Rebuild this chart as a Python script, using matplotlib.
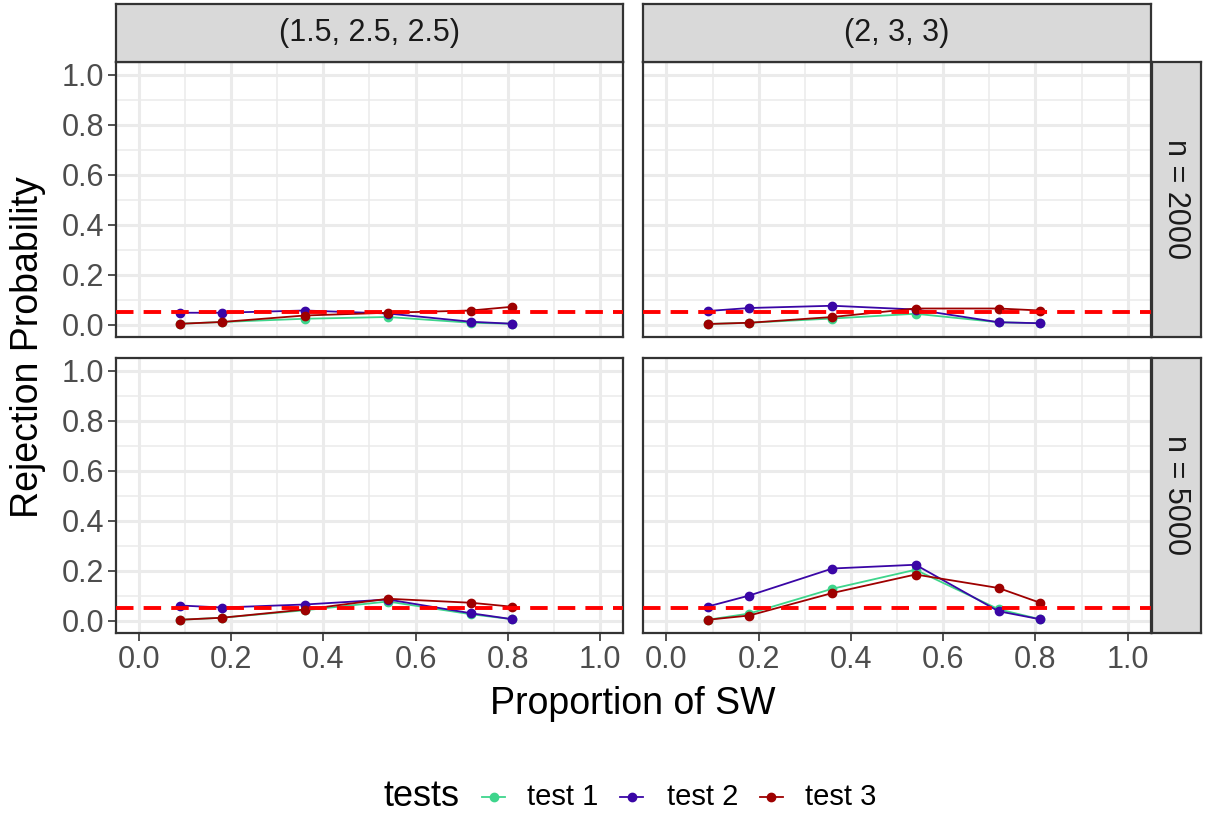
import matplotlib
matplotlib.use("Agg")
import matplotlib.pyplot as plt
from matplotlib.lines import Line2D

plt.rcParams['font.family'] = ['Liberation Sans', 'DejaVu Sans']

# ---- data ----
proportions = [0.09, 0.18, 0.36, 0.54, 0.72, 0.81]
col_labels = ["(1.5, 2.5, 2.5)", "(2, 3, 3)"]
row_labels = ["n = 2000", "n = 5000"]
test_names = ["test 1", "test 2", "test 3"]
test_colors = ["#3ED58C", "#3A06A6", "#9E0000"]

tl_test1 = [0.003, 0.010, 0.023, 0.030, 0.007, 0.003]
tl_test2 = [0.047, 0.047, 0.056, 0.044, 0.011, 0.003]
tl_test3 = [0.003, 0.010, 0.036, 0.047, 0.056, 0.071]

tr_test1 = [0.002, 0.007, 0.024, 0.043, 0.009, 0.005]
tr_test2 = [0.054, 0.066, 0.075, 0.060, 0.009, 0.005]
tr_test3 = [0.002, 0.007, 0.030, 0.064, 0.064, 0.056]

bl_test1 = [0.003, 0.011, 0.041, 0.076, 0.025, 0.005]
bl_test2 = [0.060, 0.052, 0.064, 0.084, 0.029, 0.005]
bl_test3 = [0.003, 0.011, 0.044, 0.087, 0.071, 0.055]

br_test1 = [0.003, 0.028, 0.127, 0.203, 0.045, 0.005]
br_test2 = [0.056, 0.100, 0.208, 0.223, 0.037, 0.005]
br_test3 = [0.003, 0.020, 0.110, 0.184, 0.130, 0.071]

panel_data = [
    [[tl_test1, tl_test2, tl_test3], [tr_test1, tr_test2, tr_test3]],
    [[bl_test1, bl_test2, bl_test3], [br_test1, br_test2, br_test3]],
]
ref_level = 0.05

x_ticks = [0.0, 0.2, 0.4, 0.6, 0.8, 1.0]
y_ticks = [0.0, 0.2, 0.4, 0.6, 0.8, 1.0]
x_minor = [0.1, 0.3, 0.5, 0.7, 0.9]
y_minor = [0.1, 0.3, 0.5, 0.7, 0.9]

W, H = 1205, 814
fig = plt.figure(figsize=(W / 100, H / 100), dpi=100)

col_x = [115.7, 643.3]
pw = 507.5
row_y = [62, 358]
ph = 275
strip_h = 58
rstrip_w = 49

border = "#333333"
grid_c = "#EBEBEB"
tick_fs = 22

def fx(px):
    return px / W

def fy(py):
    return 1 - py / H

for r in range(2):
    for c in range(2):
        x0 = col_x[c]
        y0 = row_y[r]
        ax = fig.add_axes([fx(x0), fy(y0 + ph), pw / W, ph / H])
        ax.set_xlim(-0.05, 1.05)
        ax.set_ylim(-0.05, 1.05)
        ax.set_xticks(x_ticks)
        ax.set_yticks(y_ticks)
        ax.set_xticks(x_minor, minor=True)
        ax.set_yticks(y_minor, minor=True)
        ax.grid(True, which='major', color=grid_c, lw=2.2, zorder=0)
        ax.grid(True, which='minor', color=grid_c, lw=1.1, zorder=0)
        ax.set_axisbelow(True)
        for s in ax.spines.values():
            s.set_color(border)
            s.set_linewidth(1.6)
        ax.tick_params(which='minor', length=0)
        ax.tick_params(which='major', length=5.5, width=1.2, color=border,
                       labelsize=tick_fs, labelcolor="#4D4D4D", pad=3)
        if c == 0:
            ax.set_yticklabels([f"{v:.1f}" for v in y_ticks])
        else:
            ax.tick_params(axis='y', which='major', length=0, labelleft=False)
        if r == 1:
            ax.set_xticklabels([f"{v:.1f}" for v in x_ticks])
        else:
            ax.tick_params(axis='x', which='major', length=0, labelbottom=False)

        for t in range(3):
            ax.plot(proportions, panel_data[r][c][t], color=test_colors[t],
                    lw=1.3, marker='o', ms=6.0, zorder=3 + t)
        ax.axhline(ref_level, color="#FF0000", lw=2.8, dashes=(4.5, 2.6), zorder=10)

        if r == 0:
            sax = fig.add_axes([fx(x0), fy(y0), pw / W, strip_h / H])
            sax.set_xlim(0, 1); sax.set_ylim(0, 1)
            sax.set_xticks([]); sax.set_yticks([])
            sax.set_facecolor("#D9D9D9")
            for s in sax.spines.values():
                s.set_color(border)
                s.set_linewidth(1.6)
            sax.text(0.5, 0.5, col_labels[c], ha='center', va='center',
                     fontsize=tick_fs, color="#1A1A1A")
        if c == 1:
            rax = fig.add_axes([fx(x0 + pw + 1), fy(y0 + ph), rstrip_w / W, ph / H])
            rax.set_xlim(0, 1); rax.set_ylim(0, 1)
            rax.set_xticks([]); rax.set_yticks([])
            rax.set_facecolor("#D9D9D9")
            for s in rax.spines.values():
                s.set_color(border)
                s.set_linewidth(1.6)
            rax.text(0.5, 0.5, row_labels[r], ha='center', va='center',
                     rotation=270, fontsize=tick_fs, color="#1A1A1A")

# axis titles
fig.text(fx(633), fy(704), "Proportion of SW", ha='center', va='center', fontsize=27)
fig.text(fx(28), fy(347), "Rejection Probability", ha='center', va='center',
         rotation=90, fontsize=27)

# legend (drawn manually: title left of the keys)
leg_y = fy(797)
fig.text(fx(383), leg_y, "tests", ha='left', va='center', fontsize=26)
key_x = [(482, 505), (620, 643), (760, 783)]
lab_x = [527, 667, 805]
for i in range(3):
    x1, x2 = key_x[i]
    fig.add_artist(Line2D([fx(x1), fx(x2)], [leg_y, leg_y], color=test_colors[i],
                          lw=1.3, transform=fig.transFigure))
    fig.add_artist(Line2D([fx((x1 + x2) / 2)], [leg_y], color=test_colors[i],
                          marker='o', ms=6.0, lw=0, transform=fig.transFigure))
    fig.text(fx(lab_x[i]), leg_y, test_names[i], ha='left', va='center', fontsize=21)

fig.savefig("out.png", dpi=100)
